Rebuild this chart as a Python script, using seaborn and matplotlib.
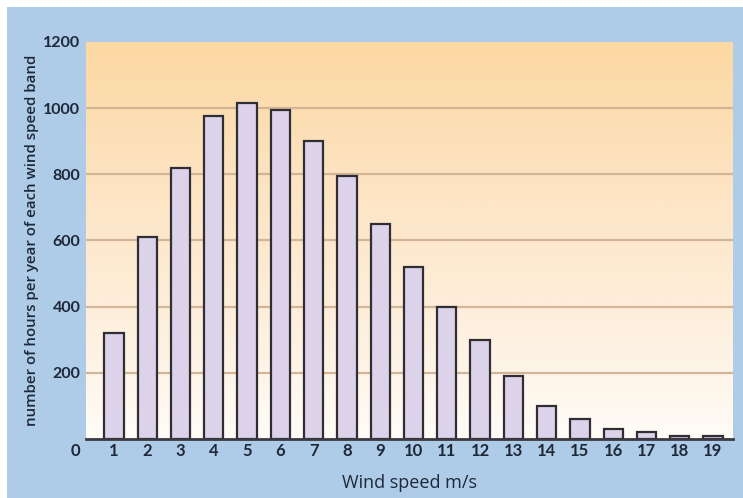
import numpy as np
import pandas as pd
import matplotlib
matplotlib.use("Agg")
import matplotlib.pyplot as plt
from matplotlib.colors import LinearSegmentedColormap
from matplotlib.patches import Rectangle
import seaborn as sns

# Hours per year spent in each wind speed band
wind_speed = [str(v) for v in range(1, 20)]
hours = [320, 610, 820, 975, 1015, 995, 900, 795, 650, 520,
         400, 300, 190, 100, 60, 30, 22, 10, 10]
y_ticks = [200, 400, 600, 800, 1000, 1200]

df = pd.DataFrame({"speed": wind_speed, "hours": hours})

sns.set_theme(style="white")
plt.rcParams["font.family"] = ["Lato", "DejaVu Sans"]

text_col = "#1e2838"
panel_blue = "#aecbe8"

fig = plt.figure(figsize=(7.43, 4.98), dpi=100, facecolor=panel_blue)
W, H = 743, 498
ax = fig.add_axes([86 / W, 1 - 439 / H, (733 - 86) / W, (439 - 42) / H])

# white margin strips along the top and left edges
fig.patches.append(Rectangle((0, 1 - 7 / H), 1, 7 / H, transform=fig.transFigure,
                             facecolor="white", edgecolor="none", zorder=0))
fig.patches.append(Rectangle((0, 0), 7 / W, 1, transform=fig.transFigure,
                             facecolor="white", edgecolor="none", zorder=0))

# warm vertical gradient behind the bars
grad_cmap = LinearSegmentedColormap.from_list(
    "warm", ["#fffcf7", "#fdeeda", "#fde3c0", "#fcd8a2"])
grad = np.linspace(0, 1, 256).reshape(-1, 1)
ax.imshow(grad, cmap=grad_cmap, aspect="auto", origin="lower",
          extent=[-0.84, 18.6, 0, 1200], zorder=0)

for y in y_ticks[:-1]:
    ax.axhline(y, color="#d2b597", lw=1.6, zorder=1)

sns.barplot(data=df, x="speed", y="hours", ax=ax, color="#dcd3eb",
            edgecolor="#2e2e33", linewidth=1.6, width=0.58, zorder=2,
            saturation=1)

ax.set_xlim(-0.84, 18.6)
ax.set_ylim(0, 1200)
ax.set_yticks(y_ticks)
ax.set_yticklabels([str(v) for v in y_ticks], fontsize=11.5, fontweight="bold",
                   color=text_col)
ax.tick_params(axis="y", length=0, pad=4)
ax.tick_params(axis="x", length=0, pad=3)
for lab in ax.get_xticklabels():
    lab.set_fontsize(12)
    lab.set_fontweight("bold")
    lab.set_color(text_col)

for side in ["left", "right", "top"]:
    ax.spines[side].set_visible(False)
ax.spines["bottom"].set_color("#3a3a40")
ax.spines["bottom"].set_linewidth(2)
ax.spines["bottom"].set_zorder(3)

# zero label sits on the same row as the speed labels
ax.text(-1.15, -36, "0", ha="center", va="center", fontsize=12,
        fontweight="bold", color=text_col, clip_on=False)

ax.set_xlabel("Wind speed m/s", fontsize=13, color=text_col,
              family=["Open Sans", "DejaVu Sans"], labelpad=11)
ax.set_ylabel("number of hours per year of each wind speed band", fontsize=10.8,
              color=text_col, fontweight="semibold",
              family=["Open Sans", "DejaVu Sans"], labelpad=3)

fig.savefig("out.png", dpi=100, facecolor=fig.get_facecolor())
